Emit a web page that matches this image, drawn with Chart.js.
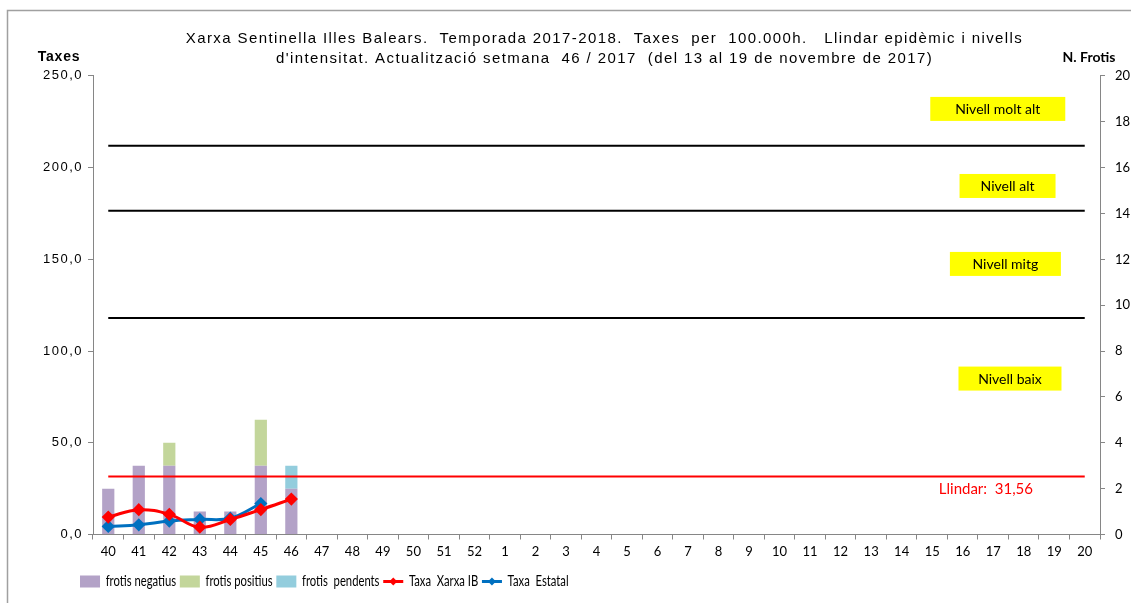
<!DOCTYPE html>
<html lang="ca">
  <head>
    <meta charset="utf-8" />
    <title>Xarxa Sentinella Illes Balears 2017-2018</title>
    <style>
      * {
        margin: 0;
        padding: 0;
      }
      body {
        background: #fff;
      }
      .chartBox {
        width: 1131px;
        height: 603px;
      }
    </style>
  </head>
  <body>
    <div class="chartBox">
      <canvas id="myChart" width="1131" height="603"></canvas>
    </div>

    <script src="https://cdn.jsdelivr.net/npm/chart.js@4.4.0/dist/chart.umd.min.js"></script>

    <script>
      // data block
      const weeks = ["40", "41", "42", "43", "44", "45", "46", "47", "48", "49", "50", "51", "52",
        "1", "2", "3", "4", "5", "6", "7", "8", "9", "10", "11", "12", "13", "14", "15", "16", "17", "18", "19", "20"];
      const frotisNegatius = [2, 3, 3, 1, 1, 3, 2];
      const frotisPositius = [0, 0, 1, 0, 0, 2, 0];
      const frotisPendents = [0, 0, 0, 0, 0, 0, 1];
      const taxaXarxaIB = [9.5, 13.5, 11.0, 4.0, 8.2, 13.6, 19.3];
      const taxaEstatal = [4.4, 5.3, 7.3, 8.2, 8.9, 16.9];
      const llindar = 31.56;
      const nivellLines = [118.0, 176.5, 211.9];
      const nivellNames = ["Nivell baix", "Nivell mitg", "Nivell alt", "Nivell molt alt"];
      const taxesTicks = [0, 50, 100, 150, 200, 250];
      const frotisTicks = [0, 2, 4, 6, 8, 10, 12, 14, 16, 18, 20];

      const pad = (arr) => weeks.map((w, i) => (i < arr.length ? arr[i] : null));
      const flat = (v) => weeks.map(() => v);

      const sansFont = "'Liberation Sans', Arial, sans-serif";
      const calFont = "Lato, 'Open Sans', sans-serif";

      const barBase = {
        type: "bar",
        yAxisID: "y1",
        stack: "frotis",
        order: 3,
        barPercentage: 0.4,
        categoryPercentage: 1,
        pointStyle: "rect",
      };
      const lineBase = {
        type: "line",
        yAxisID: "y",
        order: 1,
        borderWidth: 3,
        tension: 0.4,
        pointStyle: "rectRot",
        pointRadius: 4.5,
        pointHoverRadius: 4.5,
      };
      const refLine = (v, color) => ({
        type: "line",
        yAxisID: "y",
        order: 2,
        data: flat(v),
        borderColor: color,
        borderWidth: 2,
        pointRadius: 0,
        label: "_ref",
      });

      const data = {
        labels: weeks,
        datasets: [
          { ...barBase, label: "frotis negatius", data: pad(frotisNegatius), backgroundColor: "#b3a2c7" },
          { ...barBase, label: "frotis positius", data: pad(frotisPositius), backgroundColor: "#c3d69b" },
          { ...barBase, label: "frotis  pendents", data: pad(frotisPendents), backgroundColor: "#93cddd" },
          {
            ...lineBase,
            label: "Taxa  Xarxa IB",
            data: pad(taxaXarxaIB),
            borderColor: "#ff0000",
            backgroundColor: "#ff0000",
          },
          {
            ...lineBase,
            label: "Taxa  Estatal",
            data: pad(taxaEstatal),
            borderColor: "#0070c0",
            backgroundColor: "#0070c0",
          },
          refLine(llindar, "#ff0000"),
          ...nivellLines.map((v) => refLine(v, "#000000")),
        ],
      };

      // the Excel original draws Arial wider and Calibri narrower
      const LEGEND_X = 80;
      const LEGEND_PAD = 5;
      const LEGEND_SQUEEZE = 0.75;
      const wrapDraw = (chart, obj, fn, setup) => {
        const orig = obj[fn];
        obj[fn] = function (...args) {
          const c = chart.ctx;
          c.save();
          setup(c);
          const r = orig.apply(this, args);
          c.restore();
          return r;
        };
      };

      // border, axis titles, level labels, diamonds in legend
      const decorations = {
        id: "decorations",
        afterInit(chart) {
          wrapDraw(chart, chart.titleBlock, "draw", (c) => {
            c.letterSpacing = "1.4px";
            c.translate(39, 0);
          });
          wrapDraw(chart, chart.legend, "draw", (c) => {
            c.translate(LEGEND_X, 0);
            c.scale(LEGEND_SQUEEZE, 1);
            c.translate(-LEGEND_X, 0);
          });
        },
        beforeDraw(chart) {
          const { ctx } = chart;
          ctx.save();
          ctx.fillStyle = "#fff";
          ctx.fillRect(0, 0, chart.width, chart.height);
          ctx.strokeStyle = "#a0a0a0";
          ctx.lineWidth = 1.5;
          ctx.strokeRect(7.5, 10.5, chart.width + 20, chart.height + 20);
          ctx.restore();
        },
        afterDraw(chart) {
          const { ctx, scales } = chart;
          const xs = scales.x;
          const ys = scales.y;
          ctx.save();
          ctx.textBaseline = "middle";
          ctx.textAlign = "center";
          ctx.fillStyle = "#000";
          ctx.font = "bold 14px " + sansFont;
          ctx.letterSpacing = "0.8px";
          ctx.fillText("Taxes", 59, 57);
          ctx.letterSpacing = "0px";
          ctx.font = "bold 14px " + calFont;
          ctx.fillText("N. Frotis", 1089, 57);

          // level labels (category index, value, box width)
          const boxes = [
            [nivellNames[3], 29.15, 232, 135],
            [nivellNames[2], 29.47, 190, 96],
            [nivellNames[1], 29.4, 147.5, 111],
            [nivellNames[0], 29.55, 85, 103],
          ];
          ctx.font = "14px " + calFont;
          boxes.forEach(([text, idx, val, w]) => {
            const x = xs.getPixelForValue(idx);
            const y = ys.getPixelForValue(val);
            ctx.fillStyle = "#ffff00";
            ctx.fillRect(x - w / 2, y - 12, w, 24);
            ctx.fillStyle = "#000";
            ctx.fillText(text, x, y + 1);
          });

          ctx.font = "15px " + calFont;
          ctx.fillStyle = "#ff0000";
          ctx.fillText(
            "Llindar:  " + llindar.toFixed(2).replace(".", ","),
            xs.getPixelForValue(28.76),
            ys.getPixelForValue(24.6)
          );

          // diamonds on the line legend entries
          const legend = chart.legend;
          const boxW = chart.options.plugins.legend.labels.pointStyleWidth;
          legend.legendItems.forEach((item, i) => {
            if (item.pointStyle !== "line") return;
            const hb = legend.legendHitBoxes[i];
            const cx = LEGEND_X + (hb.left + boxW / 2 - LEGEND_X) * LEGEND_SQUEEZE;
            const cy = hb.top + hb.height / 2;
            ctx.fillStyle = item.strokeStyle;
            ctx.beginPath();
            ctx.moveTo(cx, cy - 4);
            ctx.lineTo(cx + 4, cy);
            ctx.lineTo(cx, cy + 4);
            ctx.lineTo(cx - 4, cy);
            ctx.closePath();
            ctx.fill();
          });
          ctx.restore();
        },
        afterLayout(chart) {
          chart.legend.left = LEGEND_X - LEGEND_PAD;
          if (!chart.$spaced) {
            wrapDraw(chart, chart.scales.y, "drawLabels", (c) => {
              c.letterSpacing = "1.5px";
            });
            chart.$spaced = true;
          }
        },
      };

      // config block
      const config = {
        data: data,
        options: {
          responsive: false,
          animation: false,
          layout: {
            padding: { top: 29, bottom: 4, left: 0, right: 0 },
          },
          scales: {
            x: {
              offset: true,
              grid: {
                offset: true,
                drawOnChartArea: false,
                tickLength: 5,
                color: "#868686",
              },
              border: { color: "#868686", width: 1 },
              ticks: {
                autoSkip: false,
                maxRotation: 0,
                color: "#000",
                padding: 5,
                font: { family: calFont, size: 13 },
              },
              afterFit: (scale) => {
                scale.height = 34.5;
              },
            },
            y: {
              position: "left",
              min: taxesTicks[0],
              max: taxesTicks[taxesTicks.length - 1],
              ticks: {
                stepSize: taxesTicks[1] - taxesTicks[0],
                color: "#000",
                padding: 5,
                font: { family: sansFont, size: 13 },
                callback: (v) => v.toFixed(1).replace(".", ","),
              },
              grid: { drawOnChartArea: false, tickLength: 5, color: "#868686" },
              border: { color: "#868686", width: 1 },
              afterFit: (scale) => {
                scale.width = 93;
              },
            },
            y1: {
              position: "right",
              stacked: true,
              min: frotisTicks[0],
              max: frotisTicks[frotisTicks.length - 1],
              ticks: {
                stepSize: frotisTicks[1] - frotisTicks[0],
                color: "#000",
                padding: 10,
                font: { family: calFont, size: 13 },
              },
              grid: { drawOnChartArea: false, tickLength: 5, color: "#868686" },
              border: { color: "#868686", width: 1 },
              afterFit: (scale) => {
                scale.width = 31;
              },
            },
          },
          plugins: {
            title: {
              display: true,
              text: [
                "Xarxa Sentinella Illes Balears.  Temporada 2017-2018.  Taxes  per  100.000h.   Llindar epidèmic i nivells",
                "d'intensitat. Actualització setmana  46 / 2017  (del 13 al 19 de novembre de 2017)",
              ],
              color: "#000",
              font: { family: sansFont, size: 15, weight: "normal", lineHeight: 1.33 },
              padding: { top: 0, bottom: 7 },
            },
            legend: {
              position: "bottom",
              align: "start",
              labels: {
                usePointStyle: true,
                pointStyleWidth: 26.7,
                boxHeight: 12,
                padding: LEGEND_PAD,
                color: "#000",
                font: { family: calFont, size: 15 },
                filter: (item) => item.datasetIndex < 5,
                sort: (a, b) => a.datasetIndex - b.datasetIndex,
                generateLabels: (chart) => {
                  const items = Chart.defaults.plugins.legend.labels.generateLabels(chart);
                  items.forEach((item) => {
                    if (item.datasetIndex >= 3) {
                      item.pointStyle = "line";
                      item.lineWidth = 3;
                    } else {
                      item.pointStyle = "rect";
                      item.lineWidth = 0;
                    }
                  });
                  return items;
                },
              },
            },
            tooltip: { enabled: false },
          },
        },
        plugins: [decorations],
      };

      // init render block
      const myChart = new Chart(document.getElementById("myChart"), config);
    </script>
  </body>
</html>
